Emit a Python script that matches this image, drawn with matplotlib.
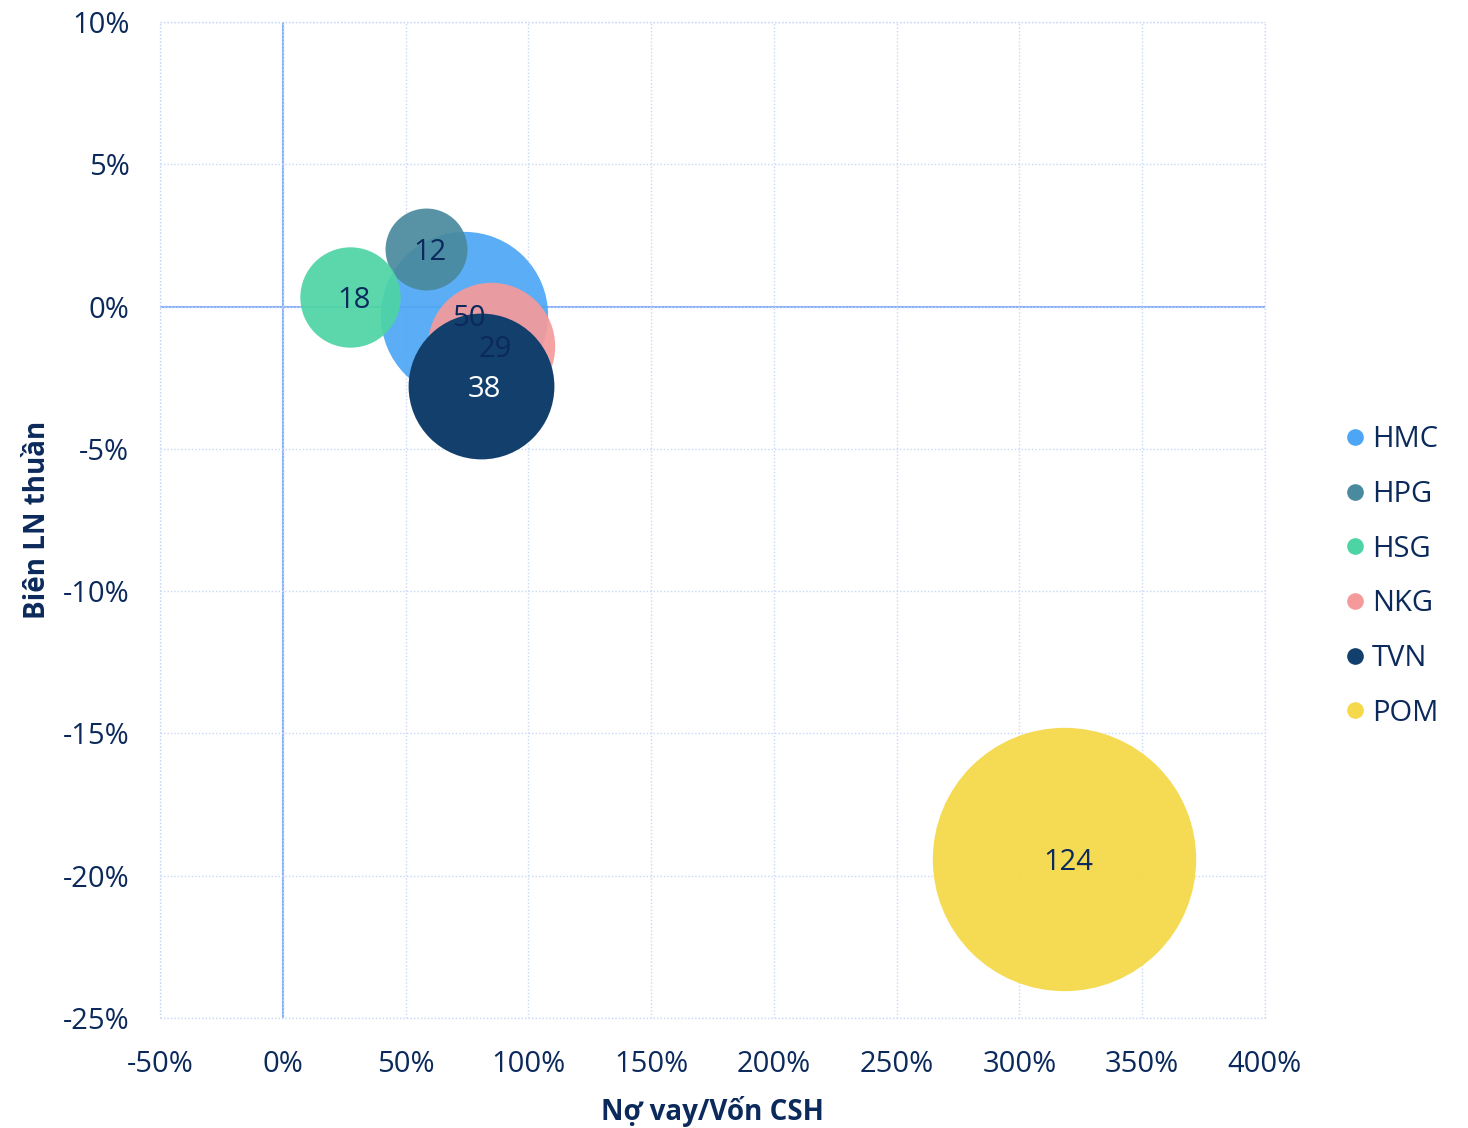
import matplotlib
matplotlib.use("Agg")
import matplotlib.pyplot as plt
from matplotlib.ticker import FuncFormatter, MultipleLocator
from matplotlib.lines import Line2D

plt.rcParams['font.family'] = ['Open Sans', 'DejaVu Sans']

# data: debt/equity (%), net margin (%), bubble value
tickers = ['HMC', 'HPG', 'HSG', 'NKG', 'TVN', 'POM']
debt_equity = [73.9, 58.2, 27.5, 84.7, 80.6, 318.0]
net_margin = [-0.28, 2.04, 0.35, -1.37, -2.78, -19.4]
bubble = [50, 12, 18, 29, 38, 124]

colors = ['#4da6f5', '#4a8a9e', '#4dd4a4', '#f59a9a', '#133f6d', '#f5d94a']
alphas = [0.92, 0.92, 0.92, 0.92, 1.0, 0.95]
label_colors = ['#0b2a5b', '#0b2a5b', '#0b2a5b', '#0b2a5b', '#ffffff', '#0b2a5b']
navy = '#0b2a5b'

fig = plt.figure(figsize=(14.68, 11.28), dpi=100)
ax = fig.add_axes([0.109, 0.0975, 0.7527, 0.883])

for i in range(len(tickers)):
    ax.scatter(debt_equity[i], net_margin[i], s=290 * bubble[i], color=colors[i],
               alpha=alphas[i], linewidths=0, zorder=3 + i)
    ax.annotate(str(bubble[i]), (debt_equity[i], net_margin[i]), xytext=(3, -3),
                textcoords='offset points', ha='center', va='center',
                fontsize=21, color=label_colors[i], zorder=20)

ax.set_xlim(-50, 400)
ax.set_ylim(-25, 10)
ax.xaxis.set_major_locator(MultipleLocator(50))
ax.yaxis.set_major_locator(MultipleLocator(5))
ax.xaxis.set_major_formatter(FuncFormatter(lambda v, p: '{:.0f}%'.format(v)))
ax.yaxis.set_major_formatter(FuncFormatter(lambda v, p: '{:.0f}%'.format(v)))

ax.grid(True, color='#c8d8f5', linestyle=(0, (1, 1.5)), linewidth=1, zorder=0)
ax.axhline(0, color='#8ab0f5', linewidth=1.5, zorder=1)
ax.axvline(0, color='#8ab0f5', linewidth=1.5, zorder=1)
for s in ax.spines.values():
    s.set_visible(False)
# dotted border lines at the limits
for xv in (-50, 400):
    ax.axvline(xv, color='#c8d8f5', linestyle=(0, (1, 1.5)), linewidth=1, zorder=0, clip_on=False)
for yv in (-25, 10):
    ax.axhline(yv, color='#c8d8f5', linestyle=(0, (1, 1.5)), linewidth=1, zorder=0, clip_on=False)

ax.tick_params(axis='both', length=0, labelsize=21, labelcolor=navy)
ax.tick_params(axis='x', pad=23)
ax.tick_params(axis='y', pad=22)

ax.set_xlabel('Nợ vay/Vốn CSH', fontsize=20, fontweight='bold', color=navy, labelpad=12)
ax.set_ylabel('Biên LN thuần', fontsize=20, fontweight='bold', color=navy, labelpad=8)

handles = [Line2D([0], [0], marker='o', linestyle='', markersize=12,
                  markerfacecolor=colors[i], markeredgewidth=0, label=tickers[i])
           for i in range(len(tickers))]
fig.legend(handles=handles, loc='center left', bbox_to_anchor=(0.895, 0.489),
           frameon=False, fontsize=21, labelcolor=navy, handletextpad=0.1,
           labelspacing=0.88, handlelength=1.0)

plt.savefig('out.png', dpi=100)
